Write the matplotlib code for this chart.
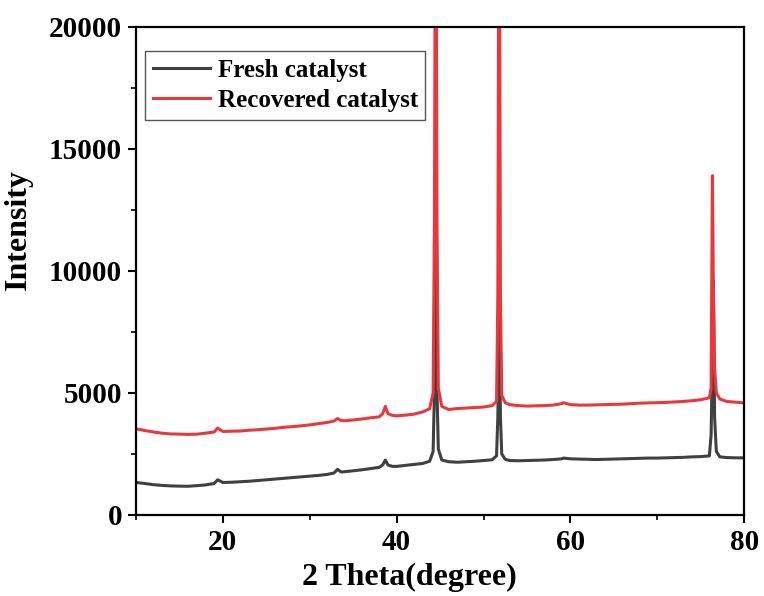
import matplotlib
matplotlib.use('Agg')
import matplotlib.pyplot as plt
from matplotlib.ticker import MultipleLocator

# 2 theta grid (degree) shared by both patterns
two_theta = [10, 11, 12, 13, 14, 15, 16, 17, 18, 19, 19.4, 20, 21, 22, 23, 24, 25,
             26, 27, 28, 29, 30, 31, 32, 32.8, 33.2, 33.6, 34, 35, 36, 37, 38,
             38.4, 38.7, 39.0, 39.5, 40, 41, 42, 43, 43.8, 44.2, 44.35, 44.5,
             44.65, 44.8, 45.2, 46, 47, 48, 49, 50, 51, 51.5, 51.65, 51.8, 51.95,
             52.1, 52.5, 53, 54, 55, 56, 57, 58, 59, 59.2, 60, 61, 62, 63, 64, 65,
             66, 67, 68, 69, 70, 71, 72, 73, 74, 75, 76.0, 76.2, 76.35, 76.45,
             76.6, 76.8, 77.2, 78, 79, 80]

fresh = [1330, 1290, 1240, 1210, 1190, 1180, 1175, 1200, 1230, 1290, 1440, 1330,
         1340, 1360, 1380, 1410, 1440,
         1470, 1500, 1530, 1560, 1590, 1620, 1660, 1720, 1870, 1760, 1770, 1810,
         1850, 1900, 1950,
         2050, 2250, 2050, 1990, 1990, 2030, 2070, 2110, 2200, 2600, 5000, 12000,
         5000, 2700, 2250, 2180, 2160, 2180, 2200, 2230, 2260, 2420, 4000, 8500, 4000,
         2500, 2280, 2230, 2220, 2230, 2240, 2250, 2270, 2300, 2330, 2300, 2290,
         2280, 2270, 2280, 2290,
         2300, 2310, 2320, 2330, 2330, 2340, 2350, 2360, 2380, 2390, 2420, 3300,
         6500, 9600,
         4000, 2600, 2380, 2350, 2340, 2340]

recovered = [3530, 3460, 3400, 3350, 3320, 3310, 3300, 3310, 3350, 3400, 3560, 3420,
             3430, 3440, 3470, 3490, 3520,
             3550, 3590, 3620, 3650, 3690, 3740, 3790, 3850, 3950, 3870, 3860, 3890,
             3930, 3980, 4020,
             4150, 4450, 4150, 4080, 4060, 4090, 4130, 4220, 4350, 5000, 12000, 30000,
             12000, 5200, 4450, 4320, 4360, 4380, 4400, 4420, 4480, 4650, 9000, 30000,
             9000,
             4900, 4600, 4520, 4480, 4460, 4470, 4480, 4500, 4560, 4600, 4520, 4500,
             4500, 4510, 4520, 4530,
             4540, 4560, 4580, 4590, 4600, 4610, 4630, 4650, 4680, 4720, 4800, 5200,
             13900, 9800,
             6000, 5000, 4750, 4650, 4620, 4590]

plt.rcParams['font.family'] = ['Liberation Serif', 'DejaVu Serif']
plt.rcParams['font.weight'] = 'bold'

fig = plt.figure(figsize=(7.64, 5.96), dpi=100)
ax = fig.add_axes([0.178, 0.136, 0.796, 0.819])

ax.plot(two_theta, fresh, color='#404040', lw=2.2, label='Fresh catalyst')
ax.plot(two_theta, recovered, color='#e8383d', lw=2.2, label='Recovered catalyst')

ax.set_xlim(10, 80)
ax.set_ylim(0, 20000)
ax.xaxis.set_major_locator(MultipleLocator(20))
ax.xaxis.set_minor_locator(MultipleLocator(10))
ax.yaxis.set_major_locator(MultipleLocator(5000))
ax.yaxis.set_minor_locator(MultipleLocator(2500))
ax.tick_params(which='major', direction='out', length=6, width=1.5, labelsize=21,
               pad=4)
ax.tick_params(which='minor', direction='out', length=3.5, width=1.2)
for lab in ax.get_xticklabels() + ax.get_yticklabels():
    lab.set_fontweight('bold')
for sp in ax.spines.values():
    sp.set_linewidth(1.6)

ax.set_xlabel('2 Theta(degree)', fontsize=23, fontweight='bold')
ax.set_ylabel('Intensity', fontsize=23, fontweight='bold')
# labels sit a bit off-centre in the original
ax.xaxis.set_label_coords(0.449, -0.098)
ax.yaxis.set_label_coords(-0.169, 0.584)

leg = ax.legend(loc='upper left', bbox_to_anchor=(0.015, 0.95), borderaxespad=0,
                fancybox=False, edgecolor='#555555', framealpha=1,
                prop={'size': 18, 'weight': 'bold'}, handlelength=2.3,
                handletextpad=0.3, labelspacing=0.3, borderpad=0.3)
leg.get_frame().set_linewidth(1.0)

fig.savefig('out.png', dpi=100)
